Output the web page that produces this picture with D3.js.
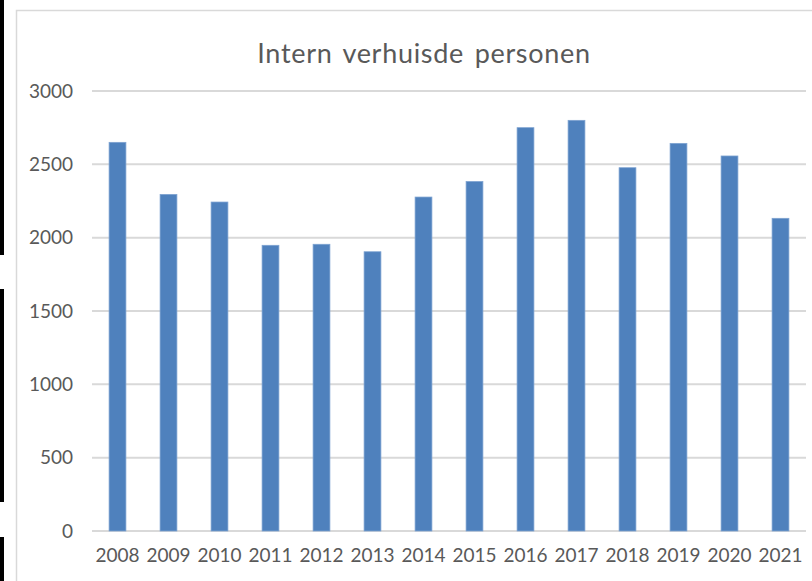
<!DOCTYPE html>
<html>
<head>
<meta charset="utf-8">
<script src="https://cdn.jsdelivr.net/npm/d3@7"></script>
<style>
    body { margin: 0; background: #ffffff; }
    svg { display: block; font-family: Lato, "Open Sans", sans-serif; }
</style>
</head>
<body>
<div id="chart"></div>
<script>
const years = ["2008", "2009", "2010", "2011", "2012", "2013", "2014", "2015", "2016", "2017", "2018", "2019", "2020", "2021"]
const persons = [2650, 2295, 2243, 1948, 1955, 1904, 2277, 2383, 2750, 2800, 2477, 2643, 2557, 2132]
const yTicks = [0, 500, 1000, 1500, 2000, 2500, 3000]
const title = "Intern verhuisde personen"

const width = 812
const height = 581
const margins = {
    top: 91,
    right: 6,
    bottom: 50,
    left: 92
}

const svg = d3.select("#chart")
    .append("svg")
    .attr("width", width)
    .attr("height", height)

// black strips down the left edge of the screenshot
const strips = [[0, 255], [289, 502], [537, 581]]
svg.selectAll(".strip")
    .data(strips)
    .enter()
    .append("rect")
    .attr("class", "strip")
    .attr("x", 0)
    .attr("width", 4)
    .attr("y", d => d[0])
    .attr("height", d => d[1] - d[0])
    .style("fill", "#000000")

// chart area border
svg.append("path")
    .attr("d", `M16.5,${height} V10.5 H${width}`)
    .style("fill", "none")
    .style("stroke", "#d9d9d9")
    .style("stroke-width", 1.5)

const x = d3.scaleBand()
    .domain(years)
    .range([margins.left, width - margins.right])
    .paddingInner(0.67)
    .paddingOuter(0.335)

const y = d3.scaleLinear()
    .domain([0, 3000])
    .range([height - margins.bottom, margins.top])

svg.selectAll(".grid")
    .data(yTicks)
    .enter()
    .append("line")
    .attr("class", "grid")
    .attr("x1", margins.left)
    .attr("x2", width - margins.right)
    .attr("y1", d => y(d))
    .attr("y2", d => y(d))
    .style("stroke", "#d9d9d9")
    .style("stroke-width", 2)

svg.selectAll(".y-label")
    .data(yTicks)
    .enter()
    .append("text")
    .attr("class", "y-label")
    .text(d => d)
    .attr("x", 73)
    .attr("y", d => y(d))
    .attr("dy", "0.35em")
    .attr("text-anchor", "end")
    .style("font-size", "19px")
    .style("fill", "#595959")

svg.selectAll(".bar")
    .data(persons)
    .enter()
    .append("rect")
    .attr("class", "bar")
    .attr("x", (d, i) => x(years[i]))
    .attr("width", x.bandwidth())
    .attr("y", d => y(d))
    .attr("height", d => y(0) - y(d))
    .style("fill", "#4f81bd")
    .style("stroke", "#7ea3d1")
    .style("stroke-width", 0.75)

svg.selectAll(".x-label")
    .data(years)
    .enter()
    .append("text")
    .attr("class", "x-label")
    .text(d => d)
    .attr("x", d => x(d) + x.bandwidth() / 2)
    .attr("y", 562)
    .attr("text-anchor", "middle")
    .style("font-size", "19px")
    .style("fill", "#595959")

svg.append("text")
    .text(title)
    .attr("x", 424)
    .attr("y", 63)
    .attr("text-anchor", "middle")
    .style("font-size", "27px")
    .style("letter-spacing", "0.7px")
    .style("word-spacing", "3px")
    .style("fill", "#595959")
</script>
</body>
</html>
